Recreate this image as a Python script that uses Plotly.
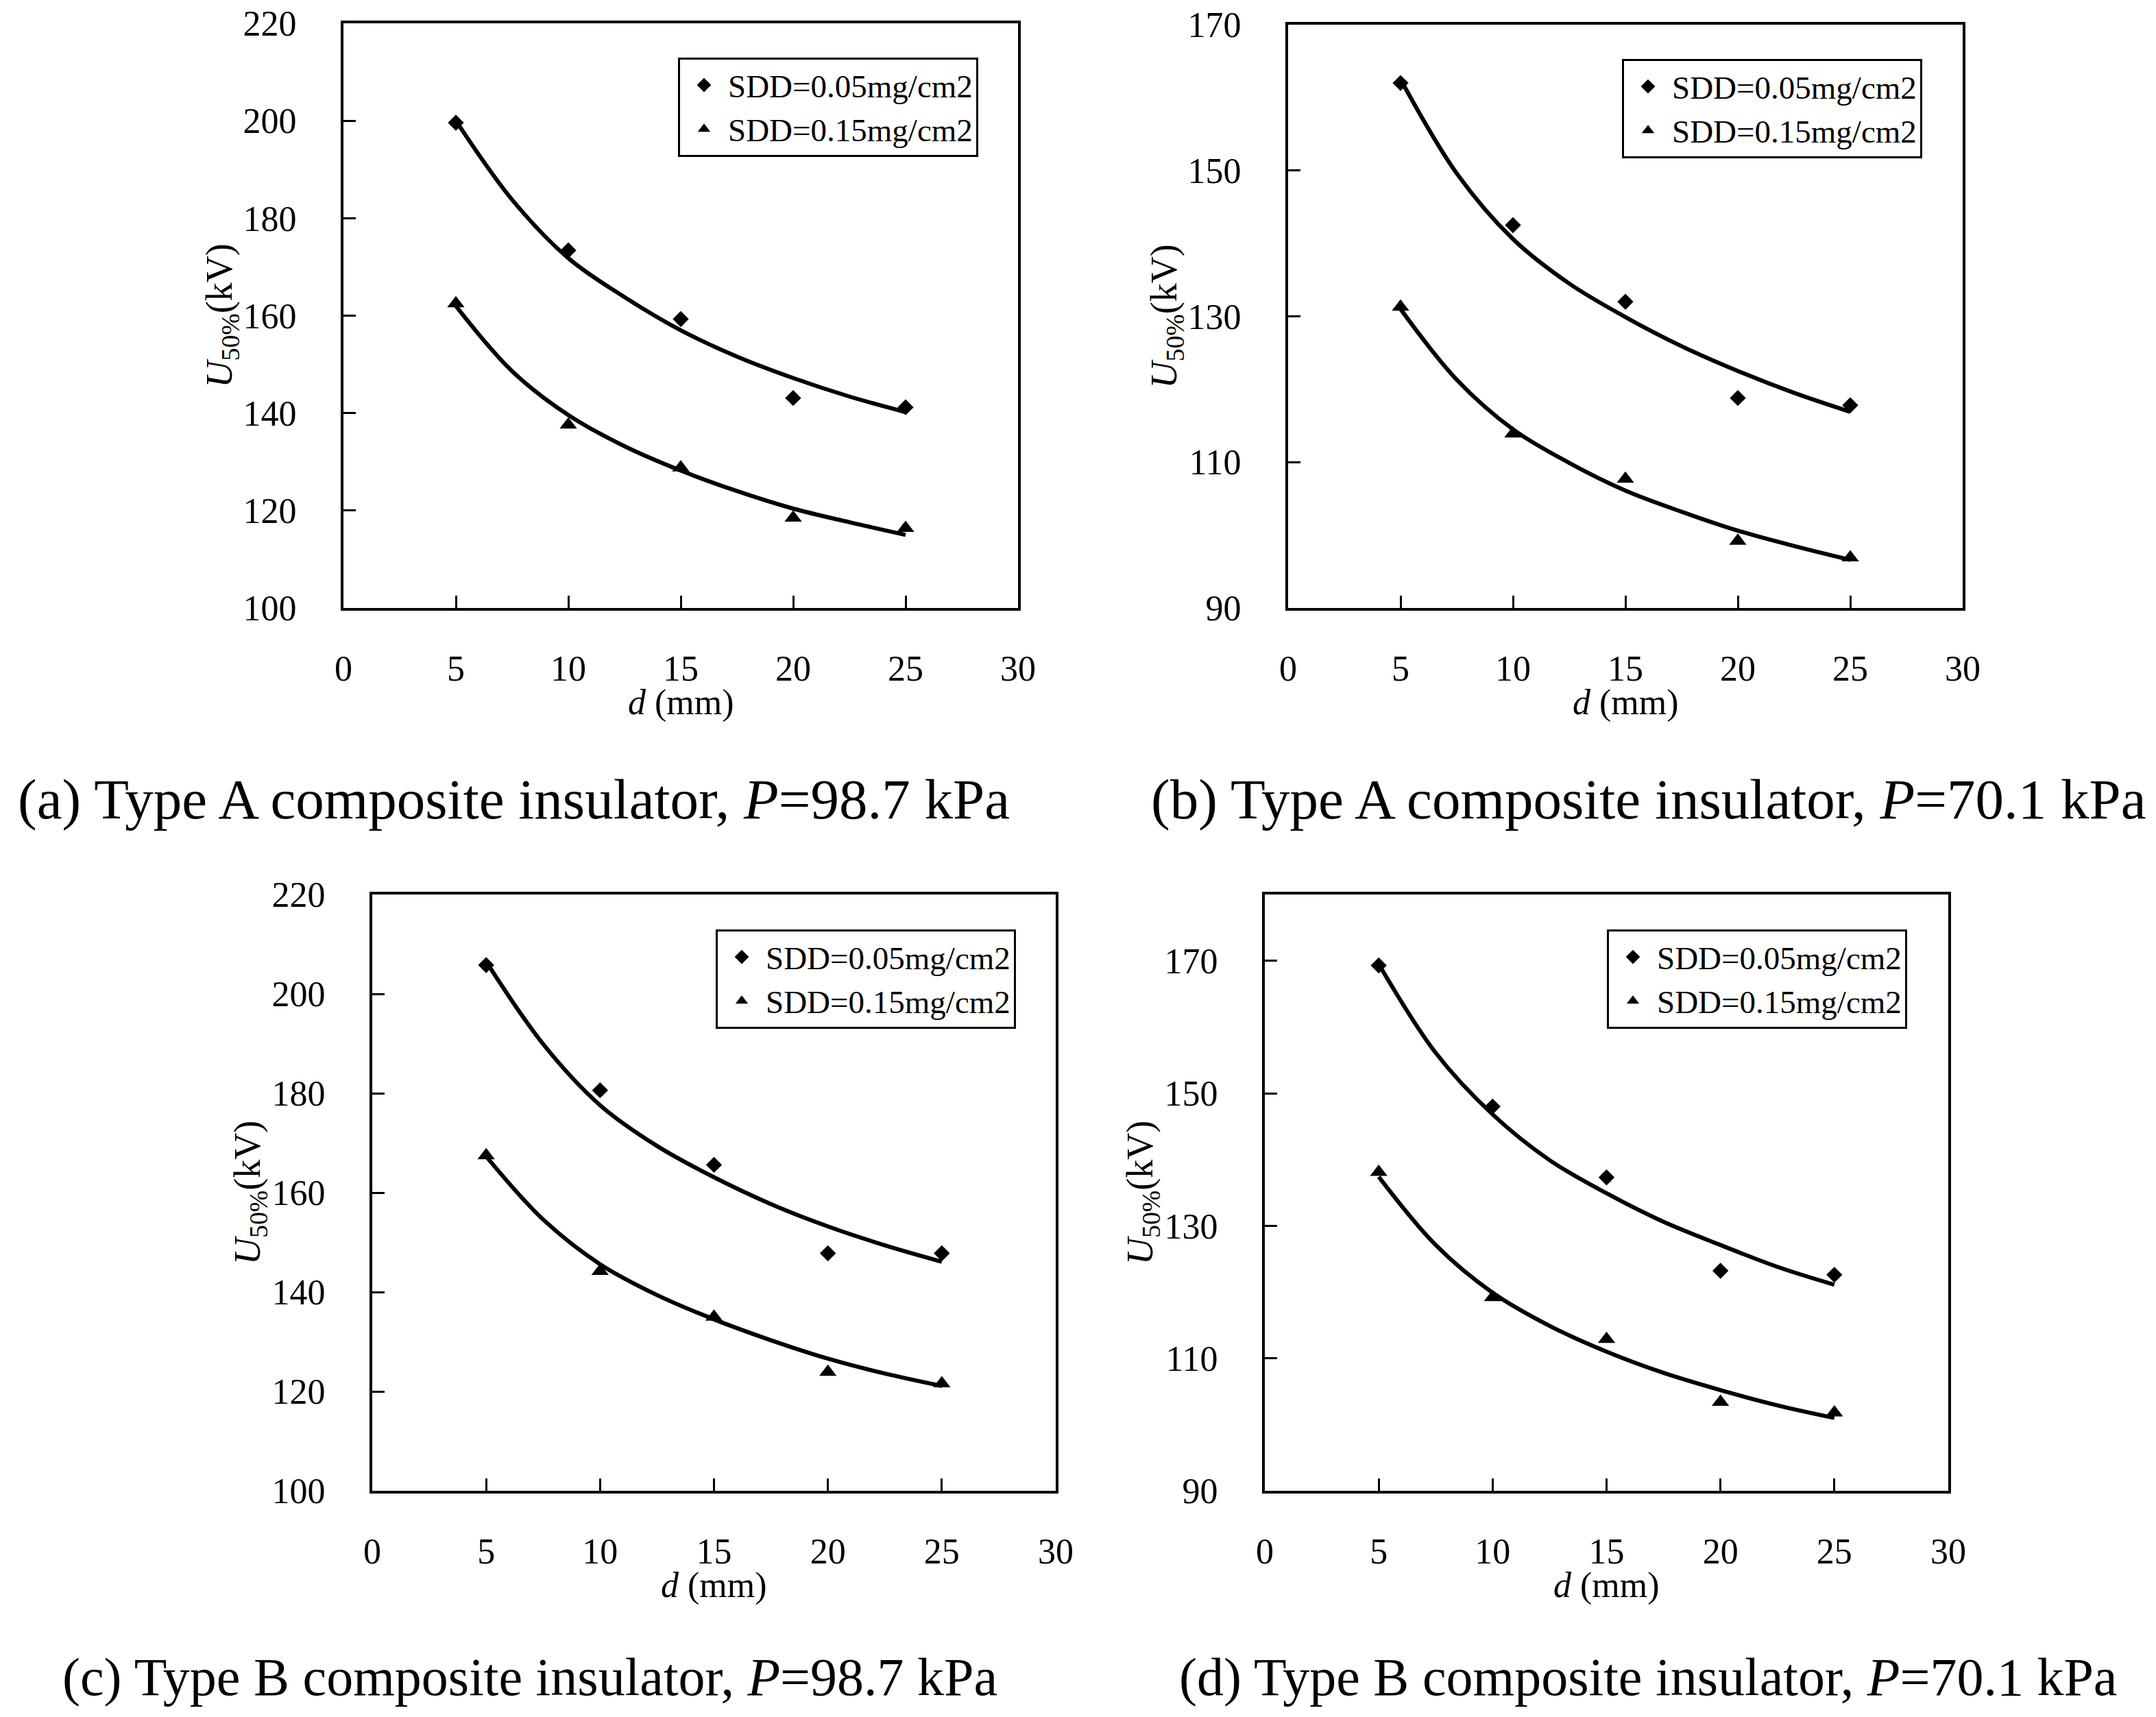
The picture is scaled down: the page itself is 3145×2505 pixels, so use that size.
import plotly.graph_objects as go

# ---------------- data ----------------
d_points = [5, 10, 15, 20, 25]
d_curve = [5, 7.5, 10, 12.5, 15, 17.5, 20, 22.5, 25]

# (a) Type A, P=98.7 kPa
a_sdd005 = [199.6, 173.4, 159.3, 143.1, 141.2]
a_sdd015 = [162.5, 137.6, 128.8, 118.5, 116.4]
a_fit005 = [200.0, 183.8, 171.8, 163.8, 157.0, 151.6, 147.2, 143.4, 140.2]
a_fit015 = [162.0, 148.6, 139.6, 133.2, 128.2, 124.0, 120.4, 117.6, 115.0]

# (b) Type A, P=70.1 kPa
b_sdd005 = [162.0, 142.5, 132.0, 118.8, 117.8]
b_sdd015 = [131.3, 113.9, 107.7, 99.2, 96.9]
b_fit005 = [162.5, 149.6, 140.6, 134.5, 129.9, 125.9, 122.5, 119.5, 116.9]
b_fit015 = [131.0, 121.3, 114.5, 109.9, 106.1, 103.2, 100.6, 98.5, 96.6]

# (c) Type B, P=98.7 kPa
c_sdd005 = [205.8, 180.6, 165.6, 147.8, 147.8]
c_sdd015 = [167.5, 144.2, 135.0, 123.9, 121.6]
c_fit005 = [206.5, 189.9, 177.6, 169.4, 163.1, 157.7, 153.2, 149.4, 146.1]
c_fit015 = [167.3, 154.6, 145.6, 139.4, 134.5, 130.3, 126.6, 123.6, 121.1]

# (d) Type B, P=70.1 kPa
d_sdd005 = [169.3, 148.0, 137.3, 123.2, 122.6]
d_sdd015 = [138.1, 119.2, 112.9, 103.4, 101.8]
d_fit005 = [169.5, 156.1, 146.8, 139.9, 134.9, 130.6, 127.1, 123.8, 121.1]
d_fit015 = [137.4, 127.1, 119.9, 114.9, 111.0, 107.8, 105.2, 102.9, 101.0]

x_ticks = [0, 5, 10, 15, 20, 25, 30]
y_ticks_98 = [100, 120, 140, 160, 180, 200, 220]
y_ticks_70a = [90, 110, 130, 150, 170]
y_ticks_70b = [90, 110, 130, 150, 170]
y_range_98 = [100, 220]
y_range_70a = [90, 170]
y_range_70b = [90, 180]

legend_names = ["SDD=0.05mg/cm2", "SDD=0.15mg/cm2"]
captions = [
    "(a) Type A composite insulator, <i>P</i>=98.7 kPa",
    "(b) Type A composite insulator, <i>P</i>=70.1 kPa",
    "(c) Type B composite insulator, <i>P</i>=98.7 kPa",
    "(d) Type B composite insulator, <i>P</i>=70.1 kPa",
]

# ---------------- layout geometry ----------------
W, H = 3145, 2505
FONT = "Liberation Serif"
OFF = 6  # compensate page offset

def px_x(v):
    return (v - OFF) / W

def px_y(v):
    return 1 - (v - OFF) / H

panels = [
    # (x0, x1, ytop, ybottom) in pixels
    dict(box=(499, 1483, 32, 885), data=(a_sdd005, a_sdd015, a_fit005, a_fit015),
         yr=y_range_98, yt=y_ticks_98, leg=(1425, 82), cap=(747, 1164), capsize=83),
    dict(box=(1877, 2861, 34, 885), data=(b_sdd005, b_sdd015, b_fit005, b_fit015),
         yr=y_range_70a, yt=y_ticks_70a, leg=(2802, 84), cap=(2403, 1164), capsize=83),
    dict(box=(541, 1538, 1303, 2173), data=(c_sdd005, c_sdd015, c_fit005, c_fit015),
         yr=y_range_98, yt=y_ticks_98, leg=(1480, 1354), cap=(771, 2444), capsize=78),
    dict(box=(1843, 2840, 1303, 2173), data=(d_sdd005, d_sdd015, d_fit005, d_fit015),
         yr=y_range_70b, yt=y_ticks_70b, leg=(2780, 1354), cap=(2402, 2444), capsize=78),
]

fig = go.Figure()
layout = dict(
    width=W, height=H,
    margin=dict(l=0, r=0, t=0, b=0, autoexpand=False),
    paper_bgcolor="white", plot_bgcolor="white",
    font=dict(family=FONT, color="black", size=50),
    annotations=[],
)

for i, p in enumerate(panels):
    n = "" if i == 0 else str(i + 1)
    xa, ya = "x" + n, "y" + n
    leg = "legend" if i == 0 else "legend" + str(i + 1)
    s005, s015, f005, f015 = p["data"]
    fig.add_trace(go.Scatter(x=d_curve, y=f005, mode="lines", line=dict(color="black", width=6, shape="spline"),
                             xaxis=xa, yaxis=ya, showlegend=False, hoverinfo="skip"))
    fig.add_trace(go.Scatter(x=d_curve, y=f015, mode="lines", line=dict(color="black", width=6, shape="spline"),
                             xaxis=xa, yaxis=ya, showlegend=False, hoverinfo="skip"))
    fig.add_trace(go.Scatter(x=d_points, y=s005, mode="markers", name=legend_names[0],
                             marker=dict(symbol="diamond", size=18, color="black"),
                             xaxis=xa, yaxis=ya, legend=leg))
    fig.add_trace(go.Scatter(x=d_points, y=s015, mode="markers", name=legend_names[1],
                             marker=dict(symbol="triangle-up", size=22, color="black"),
                             xaxis=xa, yaxis=ya, legend=leg))
    x0, x1, yt, yb = p["box"]
    axkey_x = "xaxis" + n
    axkey_y = "yaxis" + n
    layout[axkey_x] = dict(
        domain=[px_x(x0), px_x(x1)], range=[0, 30], tickvals=x_ticks,
        anchor=ya, showgrid=False, zeroline=False, showline=True, mirror=True,
        linecolor="black", linewidth=4, ticks="inside", ticklen=18, tickwidth=3,
        tickcolor="black", tickfont=dict(family=FONT, size=52, color="black"),
        ticklabelstandoff=40, automargin=False, ticklabeloverflow="allow",
    )
    layout[axkey_y] = dict(
        domain=[px_y(yb), px_y(yt)], range=p["yr"], tickvals=p["yt"],
        anchor=xa, showgrid=False, zeroline=False, showline=True, mirror=True,
        linecolor="black", linewidth=4, ticks="inside", ticklen=18, tickwidth=3,
        tickcolor="black", tickfont=dict(family=FONT, size=52, color="black"),
        ticklabelstandoff=54, automargin=False, ticklabeloverflow="allow",
    )
    lx, ly = p["leg"]
    layout[leg] = dict(
        x=px_x(lx), y=px_y(ly), xanchor="right", yanchor="top",
        xref="paper", yref="paper",
        bgcolor="white", bordercolor="black", borderwidth=3,
        font=dict(family=FONT, size=47, color="black"),
        tracegroupgap=0, itemwidth=60,
    )
    # axis titles
    cx = (x0 + x1) / 2
    cy = (yt + yb) / 2
    layout["annotations"].append(dict(
        text="<i>d</i> (mm)", x=px_x(cx), y=px_y(yb + 138), xref="paper", yref="paper",
        showarrow=False, font=dict(family=FONT, size=52, color="black"),
        xanchor="center", yanchor="middle"))
    layout["annotations"].append(dict(
        text="<i>U</i><sub>50%</sub>(kV)", x=px_x(x0 - 178), y=px_y(cy), xref="paper", yref="paper",
        showarrow=False, textangle=-90, font=dict(family=FONT, size=54, color="black"),
        xanchor="center", yanchor="middle"))
    capx, capy = p["cap"]
    layout["annotations"].append(dict(
        text=captions[i], x=px_x(capx), y=px_y(capy), xref="paper", yref="paper",
        showarrow=False, font=dict(family=FONT, size=p["capsize"], color="black"),
        xanchor="center", yanchor="middle"))

fig.update_layout(**layout)
fig.write_html("out.html")
